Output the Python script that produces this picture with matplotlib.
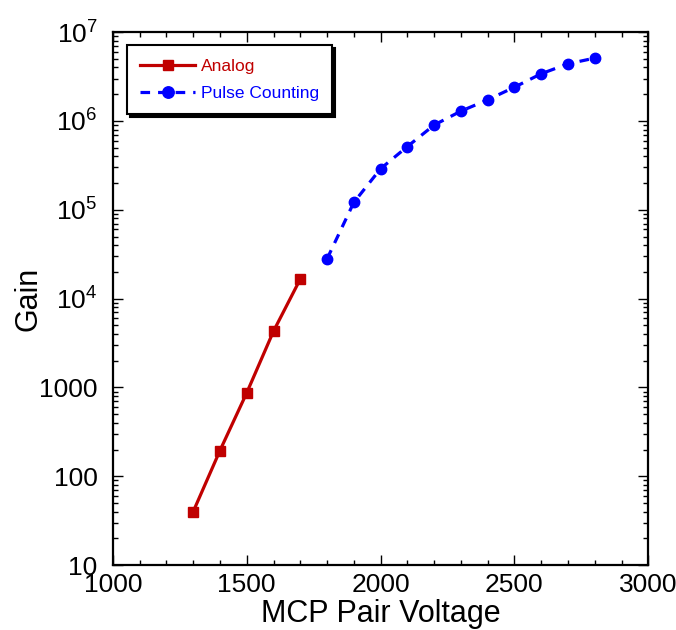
import numpy as np
import matplotlib
matplotlib.use("Agg")
import matplotlib.pyplot as plt
from matplotlib.ticker import FixedLocator, LogLocator, MultipleLocator, NullFormatter

plt.rcParams['font.family'] = ['Liberation Sans', 'DejaVu Sans']
plt.rcParams['mathtext.fontset'] = 'custom'
plt.rcParams['mathtext.rm'] = 'Liberation Sans'
plt.rcParams['mathtext.default'] = 'regular'

# data
analog_v = [1300, 1400, 1500, 1600, 1700]
analog_gain = [40, 195, 870, 4300, 16600]

pulse_v = [1800, 1900, 2000, 2100, 2200, 2300, 2400, 2500, 2600, 2700, 2800]
pulse_gain = [28000, 121000, 290000, 515000, 900000, 1.29e6, 1.73e6, 2.4e6, 3.4e6, 4.4e6, 5.1e6]

x_ticks = [1000, 1500, 2000, 2500, 3000]
y_ticks = [10, 100, 1000, 1e4, 1e5, 1e6, 1e7]
y_labels = ['10', '100', '1000', '$10^{4}$', '$10^{5}$', '$10^{6}$', '$10^{7}$']

red = '#c00000'
blue = '#0000ff'

fig = plt.figure(figsize=(6.76, 6.3), dpi=100)
ax = fig.add_axes([0.167, 0.103, 0.792, 0.846])

ax.plot(analog_v, analog_gain, color=red, lw=2.3, marker='s', ms=7, label='Analog')
ax.plot(pulse_v, pulse_gain, color=blue, lw=2.3, ls=(0, (3, 2.5)), marker='o', ms=7.5,
        label='Pulse Counting')

ax.set_yscale('log')
ax.set_xlim(1000, 3000)
ax.set_ylim(10, 1e7)

ax.xaxis.set_major_locator(FixedLocator(x_ticks))
ax.xaxis.set_minor_locator(MultipleLocator(100))
ax.set_yticks(y_ticks)
ax.set_yticklabels(y_labels)
ax.yaxis.set_minor_locator(LogLocator(base=10, subs=np.arange(2, 10)))
ax.yaxis.set_minor_formatter(NullFormatter())

ax.tick_params(which='both', direction='in', top=True, right=True, width=1)
ax.tick_params(which='major', length=7, labelsize=19)
ax.tick_params(axis='y', which='major', pad=11)
ax.tick_params(axis='x', which='major', pad=6)
ax.tick_params(which='minor', length=3.5)
for s in ax.spines.values():
    s.set_linewidth(1.6)

ax.set_xlabel('MCP Pair Voltage', fontsize=22, labelpad=1)
ax.set_ylabel('Gain', fontsize=22)
ax.yaxis.set_label_coords(-0.13, 0.5)

leg = ax.legend(loc='upper left', bbox_to_anchor=(0.026, 0.975), borderaxespad=0,
                fancybox=False, shadow={'color': 'black', 'alpha': 1},
                fontsize=12.5, numpoints=1, handlelength=3.2, framealpha=1,
                borderpad=0.75, labelspacing=0.7, handletextpad=0.3, markerscale=1.1)
leg.get_frame().set_edgecolor('black')
leg.get_frame().set_linewidth(1.5)
for txt, c in zip(leg.get_texts(), [red, blue]):
    txt.set_color(c)

fig.savefig('out.png', dpi=100)
